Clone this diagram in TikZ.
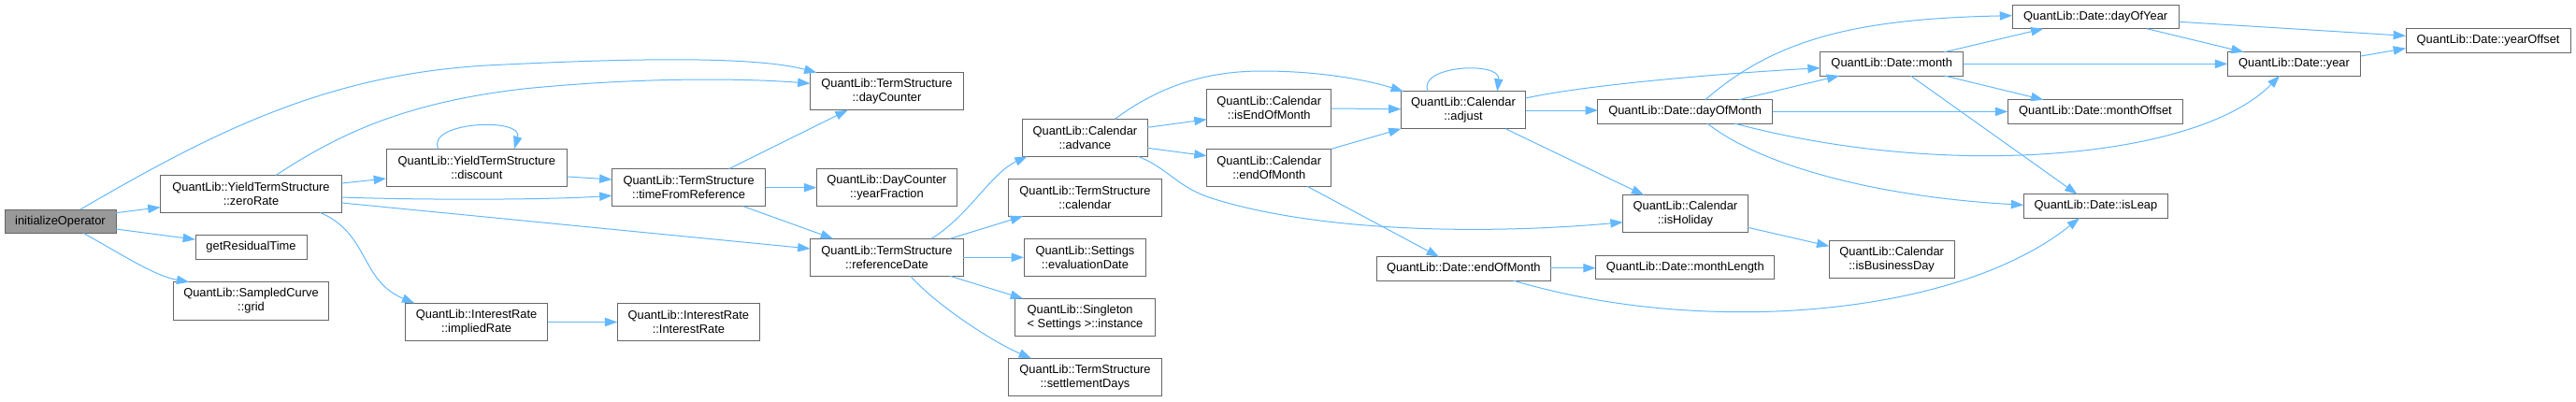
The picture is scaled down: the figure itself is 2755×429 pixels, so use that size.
\documentclass[tikz,border=0pt]{standalone}
\usepackage{fontspec}
\setmainfont{Liberation Sans}
\usetikzlibrary{arrows.meta,calc}
\definecolor{edgeblue}{HTML}{63B8FF}
\definecolor{boxline}{HTML}{666666}
\definecolor{rootfill}{HTML}{999999}
\tikzset{
  box/.style={draw=boxline, line width=0.75pt, fill=white, inner sep=0pt, outer sep=0pt, align=center,
    font=\fontsize{9.65}{11.25}\selectfont},
  rootbox/.style={box, fill=rootfill},
  edge/.style={draw=edgeblue, line width=0.75pt, -{Triangle[length=10pt,width=7pt]}},
}
\newcommand\bx[7]{\node[#7, minimum width={(#4-#2)*0.75pt}, minimum height={(#5-#3)*0.75pt}] (#1) at ({(#2+#4)/2},{(#3+#5)/2}) {#6};}
\begin{document}
\begin{tikzpicture}[x=0.75pt,y=-0.75pt]
\useasboundingbox (0,0) rectangle (2755,429);
% nodes
\bx{io}{5}{224}{124}{249.5}{initializeOperator}{rootbox}
\bx{zr}{171.5}{187.5}{365.5}{227.5}{QuantLib::YieldTermStructure\\::zeroRate}{box}
\bx{grt}{209}{251.7}{328}{277.3}{getResidualTime}{box}
\bx{grid}{185.7}{301.7}{351.3}{342}{QuantLib::SampledCurve\\::grid}{box}
\bx{disc}{413}{159.3}{606.7}{199.3}{QuantLib::YieldTermStructure\\::discount}{box}
\bx{impl}{433.5}{324.3}{585.7}{364.7}{QuantLib::InterestRate\\::impliedRate}{box}
\bx{tfr}{654.5}{180.7}{818.7}{220.7}{QuantLib::TermStructure\\::timeFromReference}{box}
\bx{ir}{660.3}{324.3}{812.5}{364.7}{QuantLib::InterestRate\\::InterestRate}{box}
\bx{dc}{866.5}{77.7}{1030.4}{117.7}{QuantLib::TermStructure\\::dayCounter}{box}
\bx{yf}{873.2}{180.7}{1023.7}{220.7}{QuantLib::DayCounter\\::yearFraction}{box}
\bx{rd}{866.5}{255.3}{1030.4}{295.3}{QuantLib::TermStructure\\::referenceDate}{box}
\bx{adv}{1093.7}{127.3}{1227.2}{167.3}{QuantLib::Calendar\\::advance}{box}
\bx{cal}{1078.6}{191.3}{1242.4}{231.3}{QuantLib::TermStructure\\::calendar}{box}
\bx{evd}{1095}{255.3}{1225.9}{295.3}{QuantLib::Settings\\::evaluationDate}{box}
\bx{sing}{1085.3}{319.3}{1235.7}{359.3}{QuantLib::Singleton\\< Settings >::instance}{box,align=left}
\bx{sd}{1078.6}{383.3}{1242.4}{423.3}{QuantLib::TermStructure\\::settlementDays}{box}
\bx{ieom}{1290.6}{95}{1423.9}{135}{QuantLib::Calendar\\::isEndOfMonth}{box}
\bx{ceom}{1290.6}{159.3}{1423.9}{199.3}{QuantLib::Calendar\\::endOfMonth}{box}
\bx{adj}{1498.5}{97.7}{1631.5}{137.7}{QuantLib::Calendar\\::adjust}{box}
\bx{deom}{1472.2}{274.7}{1658.3}{300}{QuantLib::Date::endOfMonth}{box}
\bx{dom}{1708.9}{106.7}{1895.5}{132}{QuantLib::Date::dayOfMonth}{box}
\bx{hol}{1735.7}{208.7}{1869.2}{248.7}{QuantLib::Calendar\\::isHoliday}{box}
\bx{mlen}{1706.6}{273.3}{1897.9}{298.7}{QuantLib::Date::monthLength}{box}
\bx{month}{1946.7}{55.7}{2099.7}{81}{QuantLib::Date::month}{box}
\bx{ibd}{1956.3}{257.7}{2090}{297.7}{QuantLib::Calendar\\::isBusinessDay}{box}
\bx{doy}{2152.1}{5}{2330.3}{30.7}{QuantLib::Date::dayOfYear}{box}
\bx{moff}{2147.3}{106.7}{2334.6}{132}{QuantLib::Date::monthOffset}{box}
\bx{leap}{2164.2}{207.7}{2318.7}{233.3}{QuantLib::Date::isLeap}{box}
\bx{year}{2382.3}{55.7}{2524.8}{81}{QuantLib::Date::year}{box}
\bx{yoff}{2573}{30.7}{2749.2}{56}{QuantLib::Date::yearOffset}{box}
% edges
\draw[edge] ($(io.north west)+(81,0)$) .. controls (230,140) and (350,80) .. (520,70) .. controls (640,64) and (800,58) .. ($(dc.north west)+(7,0)$);
\draw[edge] ($(io.north east)+(0,3.7)$) -- ($(zr.north west)+(0,34.2)$);
\draw[edge] ($(io.north east)+(0,21)$) -- ($(grt.north west)+(0,4.5)$);
\draw[edge] ($(io.south west)+(84.5,0)$) .. controls (130,272) and (165,295) .. ($(grid.north west)+(16.6,0)$);
\draw[edge] ($(zr.north west)+(123.5,0)$) .. controls (360,145) and (430,110) .. (560,95) .. controls (690,82) and (800,84) .. ($(dc.north west)+(0,11.6)$);
\draw[edge] ($(zr.north east)+(0,8.5)$) -- ($(disc.north west)+(0,31.7)$);
\draw[edge] ($(zr.north east)+(0,23.5)$) .. controls (450,214) and (580,214) .. ($(tfr.north west)+(0,28.6)$);
\draw[edge] ($(zr.north east)+(0,29.5)$) -- ($(rd.north west)+(0,10.7)$);
\draw[edge] ($(zr.south west)+(171.2,0)$) .. controls (395,250) and (385,300) .. ($(impl.north west)+(9.8,0)$);
\draw[edge] ($(disc.north west)+(55.75,0)$) .. controls (455,130) and (560,125) .. ($(disc.north west)+(137,0)$);
\draw[edge] ($(disc.north east)+(0,29.7)$) -- ($(tfr.north west)+(0,11.3)$);
\draw[edge] ($(tfr.north west)+(125,0)$) -- ($(dc.south west)+(40.2,0)$);
\draw[edge] (tfr.east) -- (yf.west);
\draw[edge] ($(tfr.south west)+(140.5,0)$) -- ($(rd.north west)+(24.5,0)$);
\draw[edge] (impl.east) -- (ir.west);
\draw[edge] ($(rd.north west)+(129.5,0)$) .. controls (1035,232) and (1060,185) .. ($(adv.south west)+(5,0)$);
\draw[edge] ($(rd.north west)+(149.5,0)$) -- ($(cal.south west)+(15.4,0)$);
\draw[edge] (rd.east) -- (evd.west);
\draw[edge] ($(rd.south west)+(149.5,0)$) -- ($(sing.north west)+(8.7,0)$);
\draw[edge] ($(rd.south west)+(107.2,0)$) .. controls (1000,325) and (1060,365) .. ($(sd.north west)+(24.4,0)$);
\draw[edge] ($(adv.north west)+(98.7,0)$) .. controls (1240,92) and (1290,76) .. (1350,76) .. controls (1410,76) and (1460,85) .. ($(adj.north west)+(2.4,0)$);
\draw[edge] ($(adv.north east)+(0,9)$) -- ($(ieom.north west)+(0,32.7)$);
\draw[edge] ($(adv.north east)+(0,31)$) -- ($(ceom.north west)+(0,7.4)$);
\draw[edge] ($(adv.south west)+(123.3,0)$) .. controls (1250,180) and (1260,202) .. (1300,213.3) .. controls (1420,250) and (1600,250) .. ($(hol.north west)+(0,29)$);
\draw[edge] ($(ieom.north east)+(0,21)$) -- ($(adj.north west)+(0,19)$);
\draw[edge] (ceom.north east) -- (adj.south west);
\draw[edge] ($(ceom.south west)+(107.4,0)$) -- ($(deom.north west)+(66.8,0)$);
\draw[edge] ($(adj.north west)+(28.7,0)$) .. controls (1515,70) and (1605,65) .. ($(adj.north west)+(102.8,0)$);
\draw[edge] ($(adj.north east)+(0,7.3)$) .. controls (1700,90) and (1850,78) .. ($(month.north west)+(0,17)$);
\draw[edge] ($(adj.north east)+(0,20.3)$) -- ($(dom.north west)+(0,11.3)$);
\draw[edge] ($(adj.south west)+(111.5,0)$) -- ($(hol.north west)+(22.5,0)$);
\draw[edge] ($(dom.north west)+(114.9,0)$) .. controls (1900,40) and (1990,20) .. ($(doy.north west)+(0,11.7)$);
\draw[edge] ($(dom.north west)+(150.7,0)$) -- ($(month.south west)+(20.5,0)$);
\draw[edge] (dom.east) -- (moff.west);
\draw[edge] ($(dom.south west)+(145.9,0)$) .. controls (1930,152) and (2020,166) .. (2120,166.7) .. controls (2260,167) and (2380,140) .. ($(year.south west)+(55.8,0)$);
\draw[edge] ($(dom.south west)+(117.1,0)$) .. controls (1880,175) and (2000,210) .. ($(leap.north west)+(0,11.6)$);
\draw[edge] ($(month.north west)+(132.7,0)$) -- ($(doy.south west)+(33.3,0)$);
\draw[edge] (month.east) -- (year.west);
\draw[edge] ($(month.south west)+(132.7,0)$) -- ($(moff.north west)+(38.1,0)$);
\draw[edge] ($(month.south west)+(96.6,0)$) -- ($(leap.north west)+(57.3,0)$);
\draw[edge] ($(doy.north east)+(0,18.3)$) -- ($(yoff.north west)+(0,7.6)$);
\draw[edge] ($(doy.south west)+(143.9,0)$) -- ($(year.north west)+(17.3,0)$);
\draw[edge] ($(year.north east)+(0,4.3)$) -- ($(yoff.north west)+(0,21)$);
\draw[edge] ($(hol.north east)+(0,34.6)$) -- ($(ibd.north west)+(0,5.6)$);
\draw[edge] ($(deom.north east)+(0,12)$) -- ($(mlen.north west)+(0,13.4)$);
\draw[edge] ($(deom.south west)+(145.8,0)$) .. controls (1720,330) and (1820,336) .. (1900,333) .. controls (2020,328) and (2140,300) .. ($(leap.south west)+(59.8,0)$);
\end{tikzpicture}
\end{document}
